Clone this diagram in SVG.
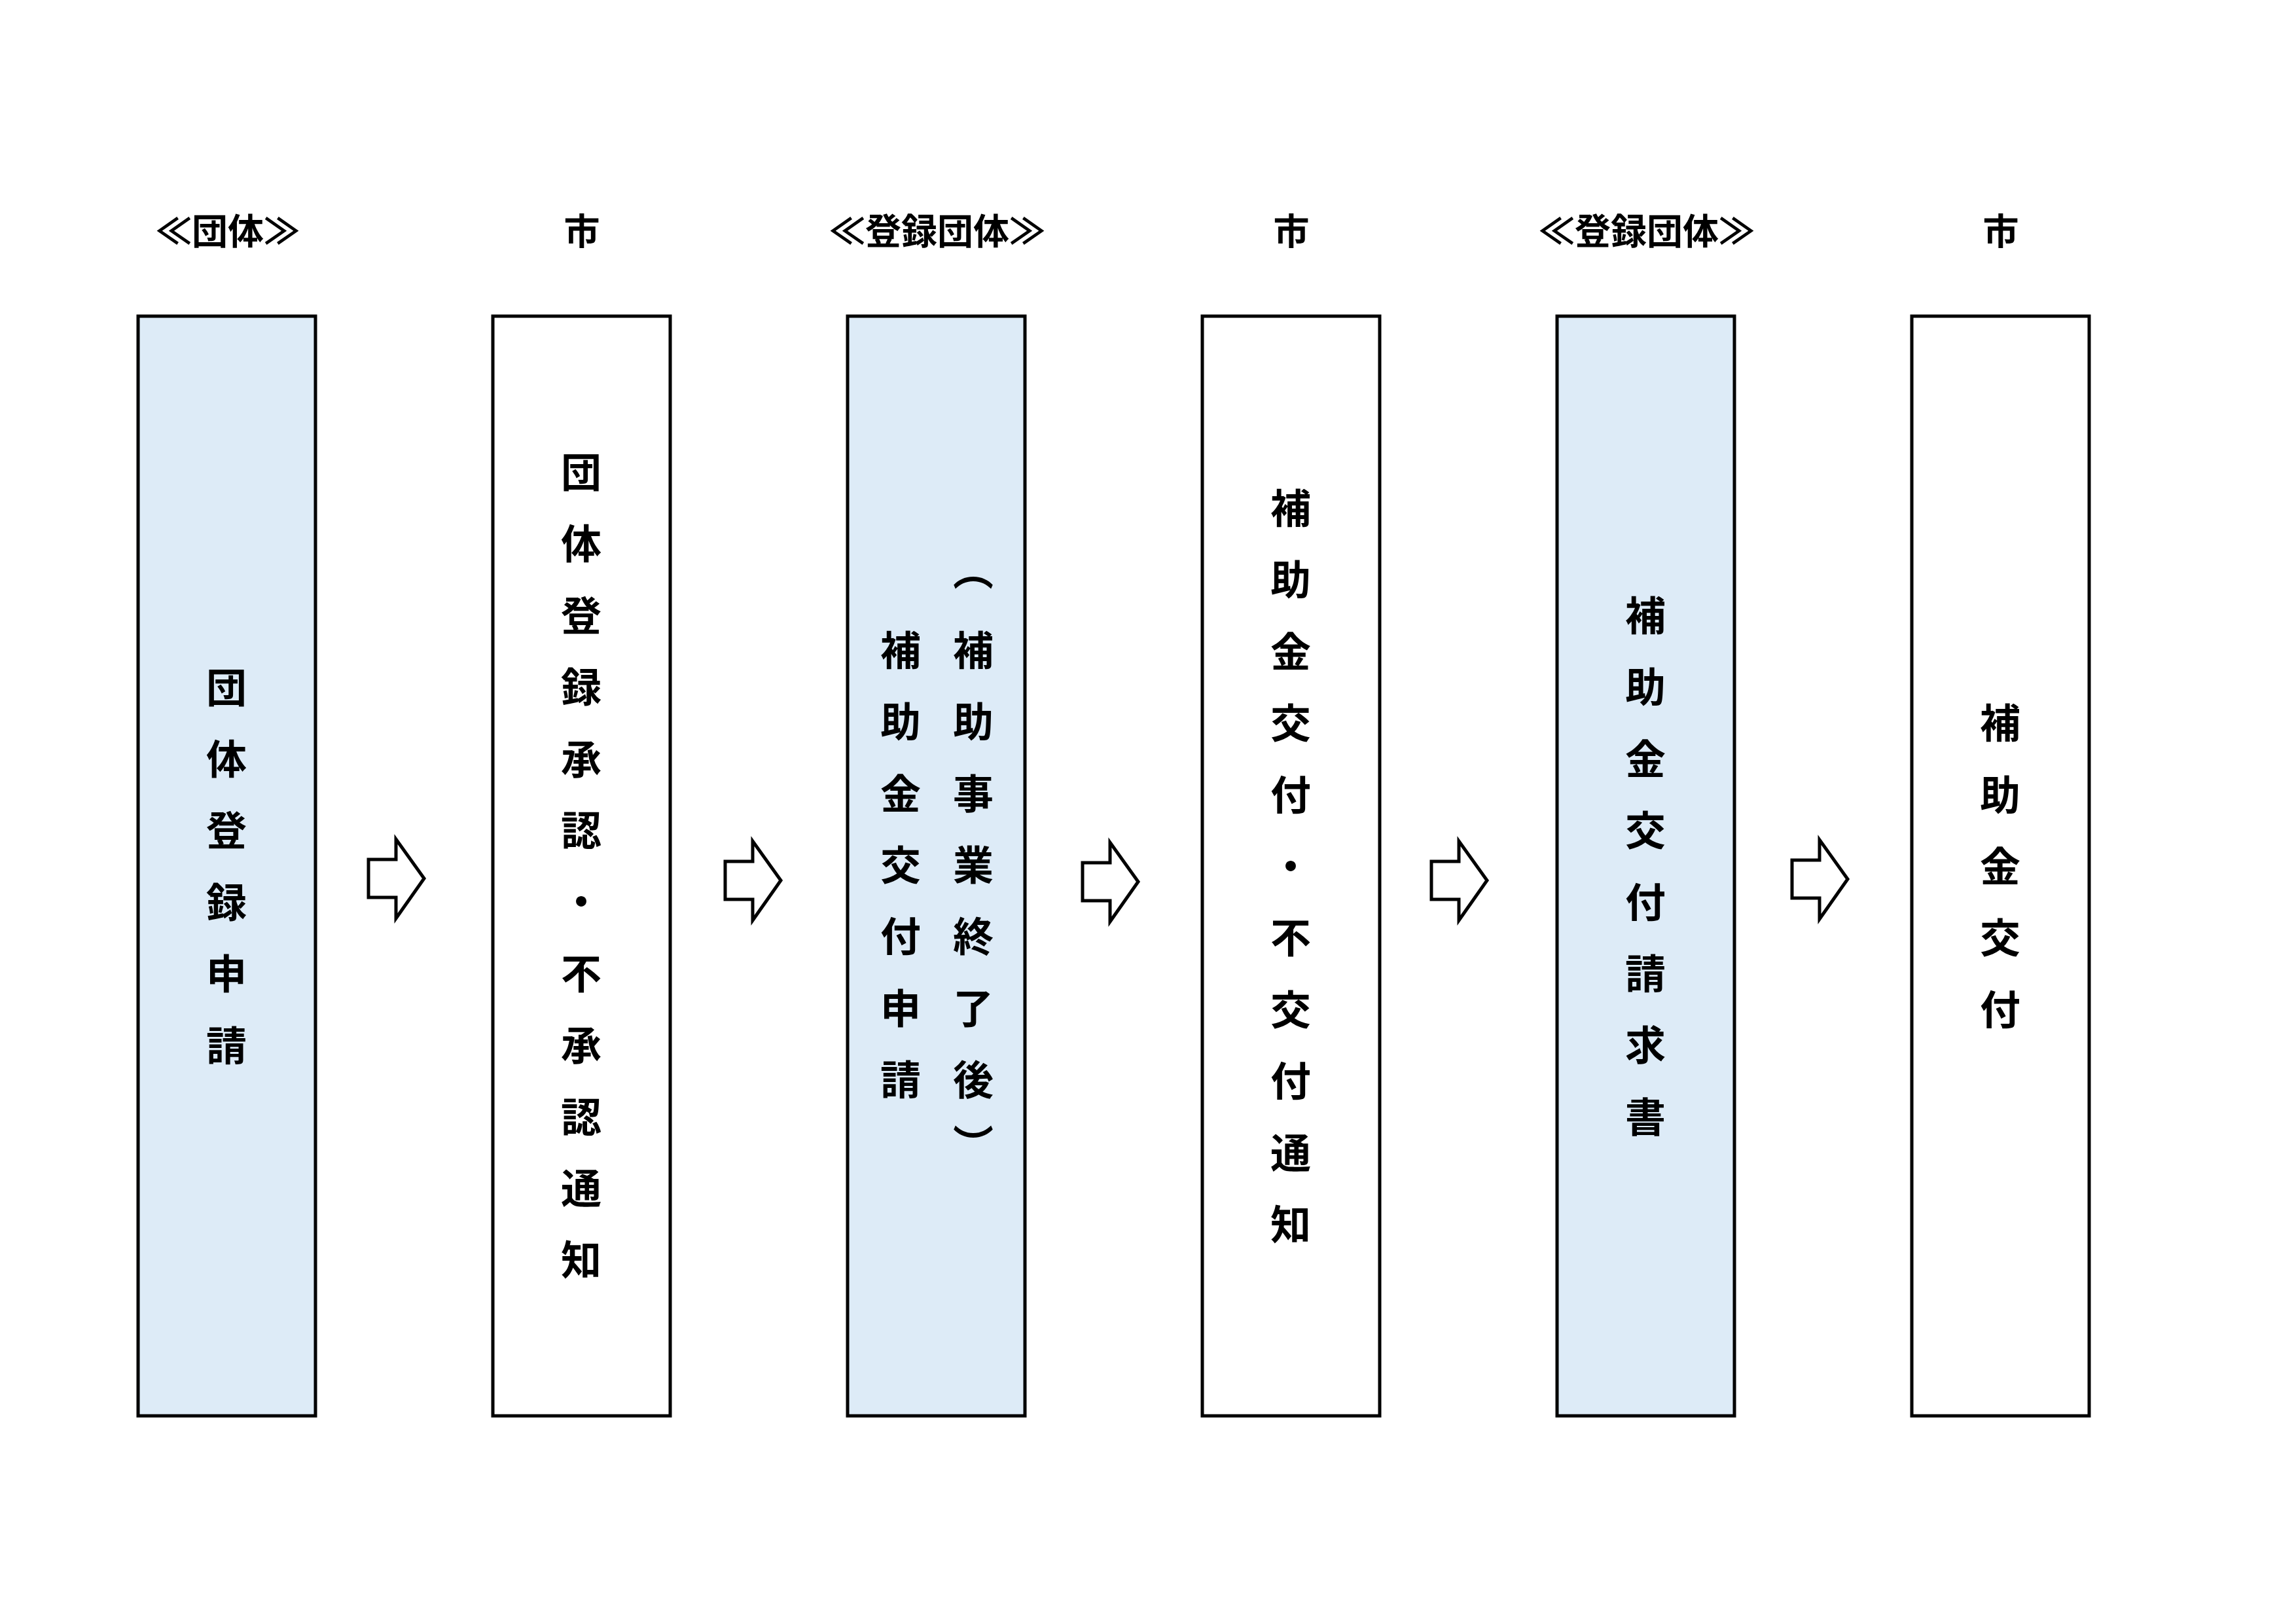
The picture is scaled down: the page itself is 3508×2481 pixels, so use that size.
<svg xmlns="http://www.w3.org/2000/svg" width="3508" height="2481" viewBox="0 0 3508 2481">
<style>
.bg{fill:#ffffff}
.box{stroke:#000;stroke-width:5;}
.blue{fill:#DDEBF7}
.white{fill:#ffffff}
.hdr{font-family:"Noto Sans CJK JP","Noto Sans CJK SC",sans-serif;font-weight:700;font-size:55px;fill:#000;text-anchor:middle}
.vt{font-family:"Noto Sans CJK JP","Noto Sans CJK SC",sans-serif;font-weight:700;font-size:62px;fill:#000;text-anchor:middle;writing-mode:vertical-rl}
.arr{fill:#fff;stroke:#000;stroke-width:5;stroke-linejoin:miter}
</style>
<defs>
<path id="blockArrow" d="M0,-29 H42 V-60 L85,0 L42,61 V29 H0 Z"/>
</defs>
<rect class="bg" x="0" y="0" width="3508" height="2481"/>

<g id="header-1"><text class="hdr" x="348" y="373">≪団体≫</text></g>
<g id="header-2"><text class="hdr" x="889" y="373">市</text></g>
<g id="header-3"><text class="hdr" x="1432" y="373">≪登録団体≫</text></g>
<g id="header-4"><text class="hdr" x="1973" y="373">市</text></g>
<g id="header-5"><text class="hdr" x="2516" y="373">≪登録団体≫</text></g>
<g id="header-6"><text class="hdr" x="3057" y="373">市</text></g>

<g id="node-1">
<rect class="box blue" x="211" y="483" width="271" height="1680"/>
<text class="vt" x="346" y="1050 1159 1268 1378 1487 1597">団体登録申請</text>
</g>
<g id="node-2">
<rect class="box white" x="753" y="483" width="271" height="1680"/>
<text class="vt" x="888" y="721 830 940 1049 1159 1268 1377 1487 1596 1706 1815 1924">団体登録承認・不承認通知</text>
</g>
<g id="node-3">
<rect class="box blue" x="1295" y="483" width="271" height="1680"/>
<text class="vt" x="1487" y="871 993 1102 1212 1321 1430 1540 1649 1748">（補助事業終了後）</text>
<text class="vt" x="1376" y="993 1102 1212 1321 1430 1540 1649">補助金交付申請</text>
</g>
<g id="node-4">
<rect class="box white" x="1837" y="483" width="271" height="1680"/>
<text class="vt" x="1972" y="776 885 995 1104 1214 1323 1432 1542 1651 1761 1870">補助金交付・不交付通知</text>
</g>
<g id="node-5">
<rect class="box blue" x="2379" y="483" width="271" height="1680"/>
<text class="vt" x="2514" y="940 1049 1159 1268 1378 1487 1596 1706">補助金交付請求書</text>
</g>
<g id="node-6">
<rect class="box white" x="2921" y="483" width="271" height="1680"/>
<text class="vt" x="3056" y="1104 1214 1323 1432 1542">補助金交付</text>
</g>

<g id="connectors">
<use class="arr" href="#blockArrow" transform="translate(563,1342)"/>
<use class="arr" href="#blockArrow" transform="translate(1108,1345)"/>
<use class="arr" href="#blockArrow" transform="translate(1654,1347)"/>
<use class="arr" href="#blockArrow" transform="translate(2187,1345)"/>
<use class="arr" href="#blockArrow" transform="translate(2738,1343)"/>
</g>
</svg>
